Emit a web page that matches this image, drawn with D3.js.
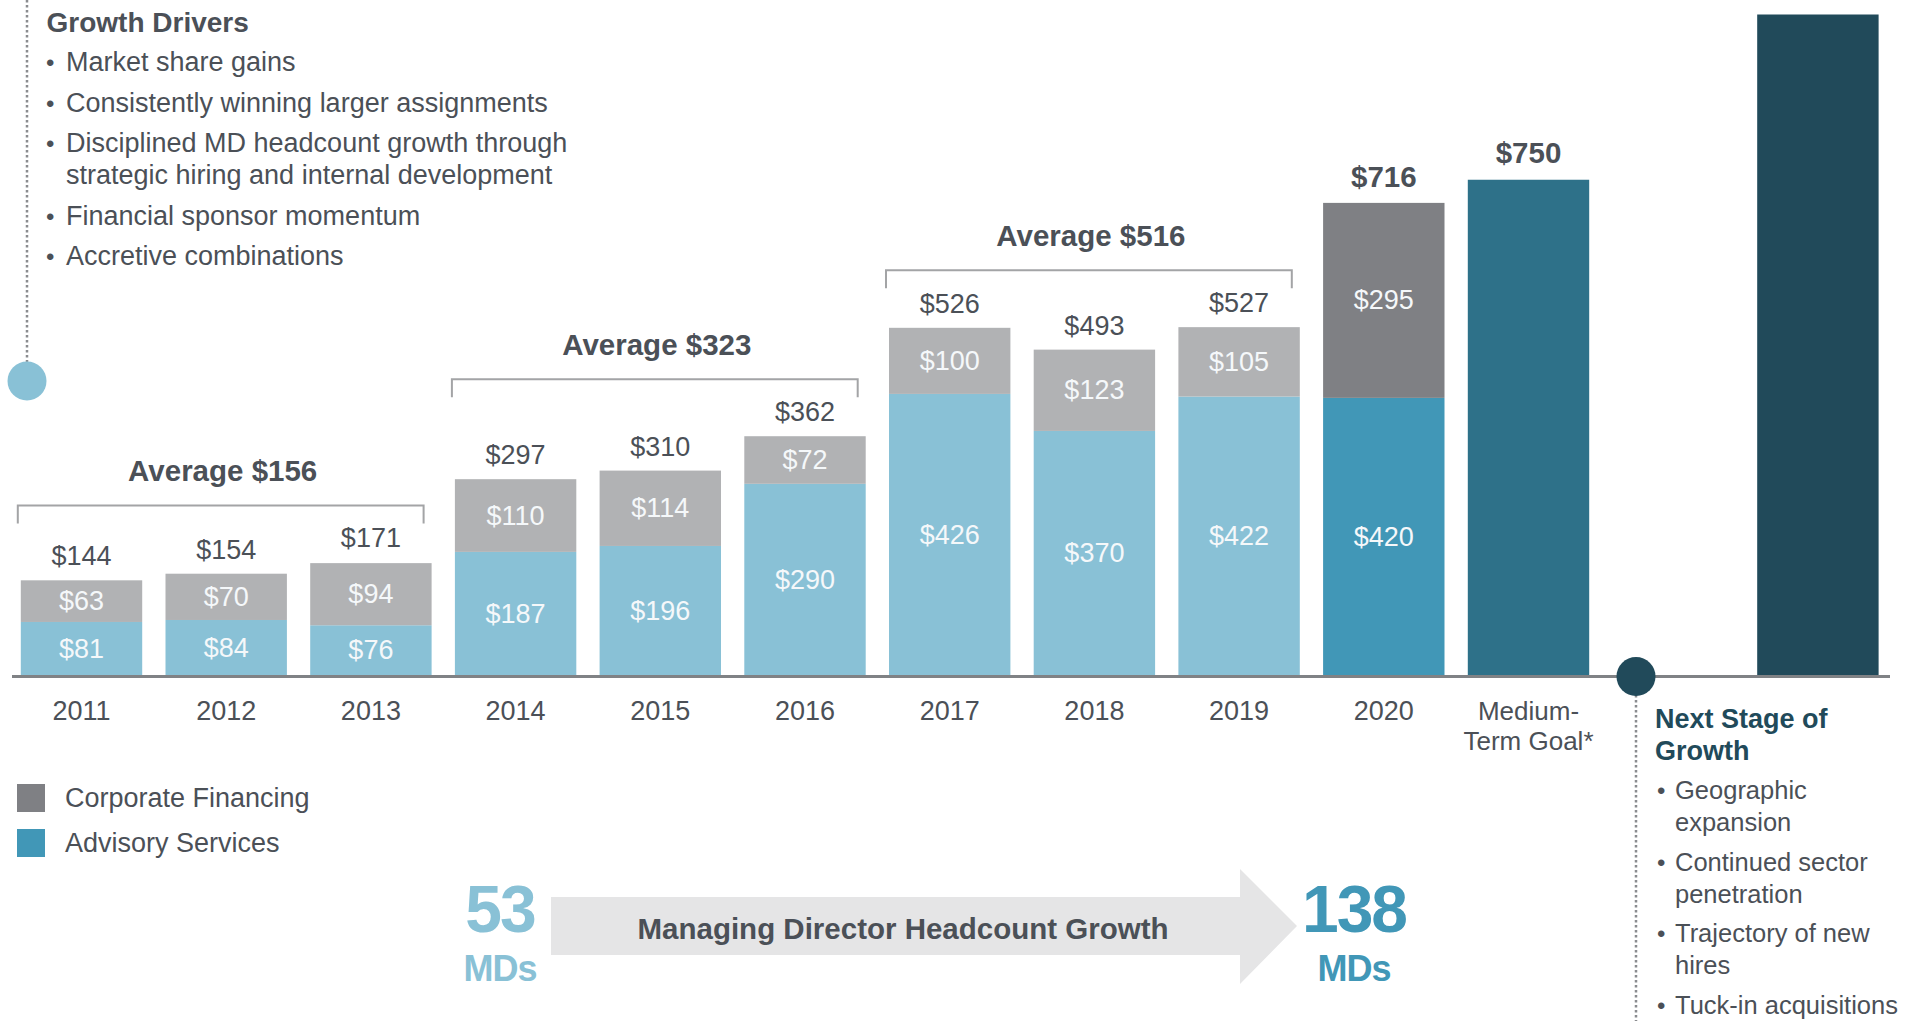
<!DOCTYPE html>
<html>
  <head>
    <meta charset="utf-8">
    <title>Revenue Growth</title>
    <style>
      html, body { margin: 0; padding: 0; background: #fff; }
      svg { display: block; font-family: 'Liberation Sans', Arial, sans-serif; }
      .txt { fill: #4b5057; }
      .inner { fill: #f5f8fa; }
      .bold { font-weight: bold; }
    </style>
  </head>
  <body>
    <div class="chart"></div>
    <script src="https://cdn.jsdelivr.net/npm/d3@7/dist/d3.min.js"></script>
    <script>
      // data ($ millions)
      var years = ['2011', '2012', '2013', '2014', '2015', '2016', '2017', '2018', '2019', '2020'];
      var advisory = [81, 84, 76, 187, 196, 290, 426, 370, 422, 420];
      var corporate = [63, 70, 94, 110, 114, 72, 100, 123, 105, 295];
      var totals = [144, 154, 171, 297, 310, 362, 526, 493, 527, 716];
      var goalValue = 750;
      var nextStageValue = 1000;
      var averages = [
        {label: 'Average $156', from: '2011', to: '2013'},
        {label: 'Average $323', from: '2014', to: '2016'},
        {label: 'Average $516', from: '2017', to: '2019'}
      ];
      var growthDrivers = [
        ['Market share gains'],
        ['Consistently winning larger assignments'],
        ['Disciplined MD headcount growth through', 'strategic hiring and internal development'],
        ['Financial sponsor momentum'],
        ['Accretive combinations']
      ];
      var nextStage = [
        ['Geographic', 'expansion'],
        ['Continued sector', 'penetration'],
        ['Trajectory of new', 'hires'],
        ['Tuck-in acquisitions']
      ];
      var mdStart = 53, mdEnd = 138;

      var width = 1923, height = 1021;
      var svg = d3.select('.chart').append('svg')
        .attr('width', width)
        .attr('height', height);

      var slots = years.concat(['goal', 'gap', 'next']);
      var x = d3.scaleBand().domain(slots).range([20.8, 1878.6]).paddingInner(0.161).paddingOuter(0);
      var y = d3.scaleLinear().domain([0, 1000]).range([675.5, 14.5]);
      var bw = x.bandwidth();

      var colAdv = '#89c1d6', colCorp = '#b1b2b4';
      var colAdv20 = '#4197b7', colCorp20 = '#7f8084';
      var reg = '27px', bld = '29.5px';

      // dotted timeline lines + dots
      svg.append('line')
        .attr('x1', 27).attr('x2', 27).attr('y1', 0).attr('y2', 362)
        .attr('stroke', '#8a8c8f').attr('stroke-width', 2.5).attr('stroke-dasharray', '2.5,2.5');
      svg.append('circle').attr('cx', 27).attr('cy', 381).attr('r', 19.5).attr('fill', '#89c1d6');

      svg.append('line')
        .attr('x1', 1636).attr('x2', 1636).attr('y1', 690).attr('y2', height)
        .attr('stroke', '#8a8c8f').attr('stroke-width', 2.5).attr('stroke-dasharray', '2.5,2.5');

      // stacked bars
      var rows = years.map(function(d, i) {
        return {year: d, adv: advisory[i], corp: corporate[i], total: totals[i], last: d === '2020'};
      });

      var bars = svg.append('g').selectAll('g').data(rows).enter().append('g');
      bars.append('rect')
        .attr('x', function(d) { return x(d.year); })
        .attr('width', bw)
        .attr('y', function(d) { return y(d.adv); })
        .attr('height', function(d) { return y(0) - y(d.adv); })
        .attr('fill', function(d) { return d.last ? colAdv20 : colAdv; });
      bars.append('rect')
        .attr('x', function(d) { return x(d.year); })
        .attr('width', bw)
        .attr('y', function(d) { return y(d.adv + d.corp); })
        .attr('height', function(d) { return y(d.adv) - y(d.adv + d.corp); })
        .attr('fill', function(d) { return d.last ? colCorp20 : colCorp; });

      bars.append('text').attr('class', 'inner')
        .attr('x', function(d) { return x(d.year) + bw / 2; })
        .attr('y', function(d) { return (y(0) + y(d.adv)) / 2; })
        .attr('text-anchor', 'middle').attr('dominant-baseline', 'central')
        .style('font-size', reg)
        .text(function(d) { return '$' + d.adv; });
      bars.append('text').attr('class', 'inner')
        .attr('x', function(d) { return x(d.year) + bw / 2; })
        .attr('y', function(d) { return (y(d.adv) + y(d.adv + d.corp)) / 2; })
        .attr('text-anchor', 'middle').attr('dominant-baseline', 'central')
        .style('font-size', reg)
        .text(function(d) { return '$' + d.corp; });
      bars.append('text')
        .attr('class', function(d) { return d.last ? 'txt bold' : 'txt'; })
        .attr('x', function(d) { return x(d.year) + bw / 2; })
        .attr('y', function(d) { return y(d.total) - 15; })
        .attr('text-anchor', 'middle')
        .style('font-size', function(d) { return d.last ? bld : reg; })
        .text(function(d) { return '$' + d.total; });

      // medium-term goal and next stage bars
      svg.append('rect')
        .attr('x', x('goal')).attr('width', bw)
        .attr('y', y(goalValue)).attr('height', y(0) - y(goalValue))
        .attr('fill', '#2e7189');
      svg.append('text').attr('class', 'txt bold')
        .attr('x', x('goal') + bw / 2).attr('y', y(goalValue) - 17)
        .attr('text-anchor', 'middle').style('font-size', bld)
        .text('$' + goalValue);
      svg.append('rect')
        .attr('x', x('next')).attr('width', bw)
        .attr('y', y(nextStageValue)).attr('height', y(0) - y(nextStageValue))
        .attr('fill', '#214a5a');

      // axis
      var axis = svg.append('g')
        .attr('transform', 'translate(0,' + y(0) + ')')
        .call(d3.axisBottom(x).tickSize(0).tickValues(years).tickPadding(0));
      axis.select('.domain').remove();
      axis.selectAll('text').attr('class', 'txt').attr('fill', null)
        .attr('dy', null).attr('y', 44)
        .style('font-size', reg).style('font-family', 'inherit');
      svg.append('line')
        .attr('x1', 12).attr('x2', 1890).attr('y1', y(0) + 1).attr('y2', y(0) + 1)
        .attr('stroke', '#808285').attr('stroke-width', 3);
      var goalLbl = svg.append('text').attr('class', 'txt')
        .attr('text-anchor', 'middle').style('font-size', '26px');
      goalLbl.append('tspan').attr('x', x('goal') + bw / 2).attr('y', y(0) + 44).text('Medium-');
      goalLbl.append('tspan').attr('x', x('goal') + bw / 2).attr('y', y(0) + 74).text('Term Goal*');

      svg.append('circle').attr('cx', 1636).attr('cy', y(0) + 1).attr('r', 19.5).attr('fill', '#214a5a');

      // average brackets
      averages.forEach(function(a) {
        var i0 = years.indexOf(a.from), i1 = years.indexOf(a.to);
        var top = d3.max(totals.slice(i0, i1 + 1));
        var by = y(top) - 57;
        var x0 = x(a.from) - 3, x1 = x(a.to) + bw - 8;
        svg.append('path')
          .attr('d', 'M' + x0 + ',' + (by + 18) + 'V' + by + 'H' + x1 + 'V' + (by + 18))
          .attr('fill', 'none').attr('stroke', '#a3a4a6').attr('stroke-width', 2);
        svg.append('text').attr('class', 'txt bold')
          .attr('x', (x0 + x1) / 2 + 2).attr('y', by - 24)
          .attr('text-anchor', 'middle').style('font-size', bld)
          .text(a.label);
      });

      // growth drivers list
      svg.append('text').attr('class', 'txt bold')
        .attr('x', 46.5).attr('y', 32).style('font-size', '28px').text('Growth Drivers');
      var ly = 71;
      growthDrivers.forEach(function(lines) {
        svg.append('text').attr('class', 'txt').attr('x', 46).attr('y', ly)
          .style('font-size', '24px').text('\u2022');
        lines.forEach(function(l, j) {
          svg.append('text').attr('class', 'txt').attr('x', 66).attr('y', ly + j * 32)
            .style('font-size', reg).text(l);
        });
        ly += (lines.length - 1) * 32 + 40.5;
      });

      // next stage list
      var ns = svg.append('text').attr('class', 'bold').attr('fill', '#214a5a').style('font-size', '27px');
      ns.append('tspan').attr('x', 1655).attr('y', 728).text('Next Stage of');
      ns.append('tspan').attr('x', 1655).attr('y', 760).text('Growth');
      var ry = 799;
      nextStage.forEach(function(lines) {
        svg.append('text').attr('class', 'txt').attr('x', 1657).attr('y', ry)
          .style('font-size', '24px').text('\u2022');
        lines.forEach(function(l, j) {
          svg.append('text').attr('class', 'txt').attr('x', 1675).attr('y', ry + j * 32)
            .style('font-size', '25.5px').text(l);
        });
        ry += (lines.length - 1) * 32 + 39.5;
      });

      // legend
      var legend = [
        {name: 'Corporate Financing', color: colCorp20, cy: 798},
        {name: 'Advisory Services', color: colAdv20, cy: 843}
      ];
      legend.forEach(function(l) {
        svg.append('rect').attr('x', 17).attr('y', l.cy - 14).attr('width', 28).attr('height', 28).attr('fill', l.color);
        svg.append('text').attr('class', 'txt').attr('x', 65).attr('y', l.cy)
          .attr('dominant-baseline', 'central').style('font-size', reg).text(l.name);
      });

      // headcount arrow
      svg.append('path')
        .attr('d', 'M551,897H1240V869L1297,926L1240,984V955H551Z')
        .attr('fill', '#e5e5e6');
      svg.append('text').attr('class', 'txt bold')
        .attr('x', 903).attr('y', 939).attr('text-anchor', 'middle')
        .style('font-size', bld).text('Managing Director Headcount Growth');

      [{v: mdStart, cx: 500, col: '#89c1d6'}, {v: mdEnd, cx: 1354, col: '#4197b7'}].forEach(function(m) {
        svg.append('text').attr('class', 'bold').attr('fill', m.col)
          .attr('x', m.cx).attr('y', 932).attr('text-anchor', 'middle')
          .style('font-size', '66px').style('letter-spacing', '-2px').text(m.v);
        svg.append('text').attr('class', 'bold').attr('fill', m.col)
          .attr('x', m.cx).attr('y', 981).attr('text-anchor', 'middle')
          .style('font-size', '36px').style('letter-spacing', '-1px').text('MDs');
      });
    </script>
  </body>
</html>
